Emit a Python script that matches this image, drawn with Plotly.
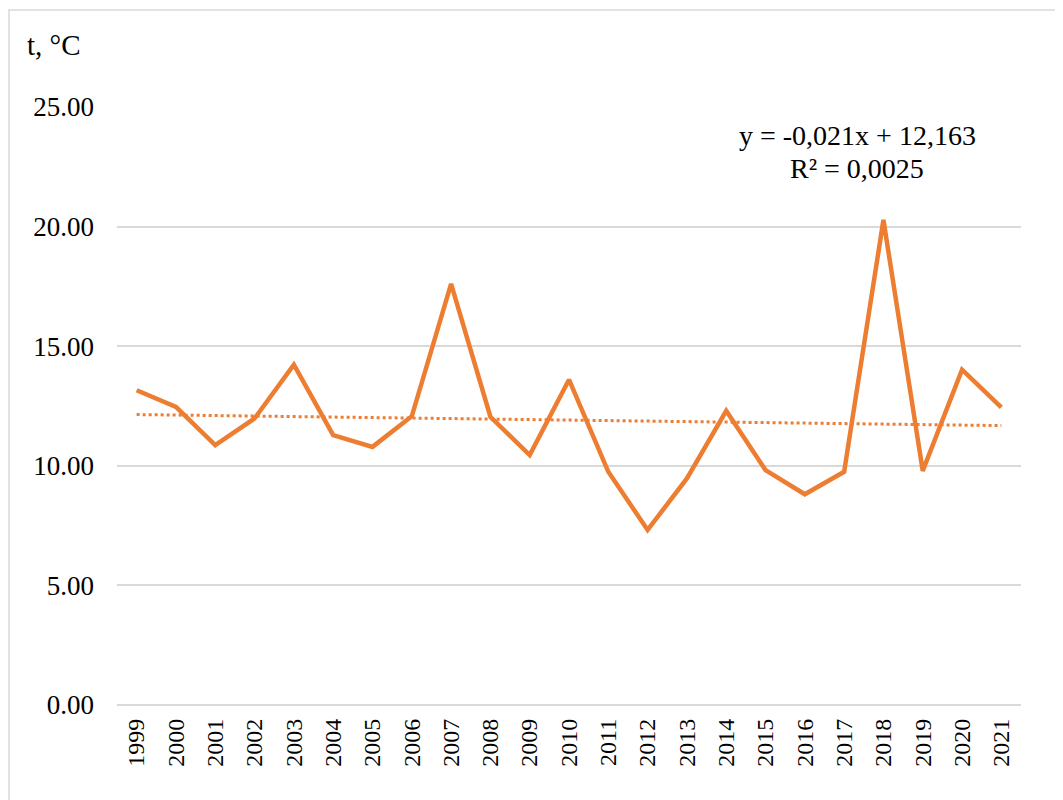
import plotly.graph_objects as go

years = [str(y) for y in range(1999, 2022)]
temps = [13.16, 12.46, 10.86, 11.98, 14.23, 11.28, 10.79, 12.07, 17.61, 12.05,
         10.45, 13.60, 9.75, 7.32, 9.47, 12.30, 9.82, 8.81, 9.75, 20.28,
         9.79, 14.02, 12.44]
trend_slope = -0.021
trend_intercept = 12.163
trend_lines = ["y = -0,021x + 12,163", "R² = 0,0025"]
y_ticks = [0, 5, 10, 15, 20, 25]

trend = [trend_slope * (i + 1) + trend_intercept for i in range(len(years))]

ORANGE = "#ED7D31"
FONT = "Liberation Serif"

fig = go.Figure()
fig.add_trace(go.Scatter(x=years, y=trend, mode="lines",
                         line=dict(color=ORANGE, width=3, dash="dot"),
                         hoverinfo="skip", showlegend=False))
fig.add_trace(go.Scatter(x=years, y=temps, mode="lines",
                         line=dict(color=ORANGE, width=4.5),
                         showlegend=False))

# page body has an 8px margin; compensate so the plot lands where the reference has it
OFF = 8
L, R, T, B = 117 - OFF, 42, 107 - OFF, 95
W, H = 1063 - OFF, 800 - OFF
pw, ph = W - L - R, H - T - B


def px_x(x):  # page x -> paper x
    return (x - OFF - L) / pw


def px_y(y):  # page y -> paper y
    return (H - B - (y - OFF)) / ph


fig.update_layout(
    width=W, height=H,
    margin=dict(l=L, r=R, t=T, b=B),
    paper_bgcolor="white", plot_bgcolor="white",
    font=dict(family=FONT, color="black"),
    xaxis=dict(type="category", range=[-0.5, len(years) - 0.5],
               tickangle=-90, tickfont=dict(size=24, family=FONT),
               showgrid=False, showline=False, zeroline=False,
               ticks="", ticklabelstandoff=8),
    yaxis=dict(range=[0, 25], tickvals=y_ticks, tickformat=".2f",
               tickfont=dict(size=27, family=FONT),
               showgrid=True, gridcolor="#D9D9D9", gridwidth=1.5,
               zeroline=True, zerolinecolor="#D9D9D9", zerolinewidth=1.5,
               showline=False, ticks="", ticklabelstandoff=22),
    shapes=[dict(type="rect", xref="paper", yref="paper",
                 x0=px_x(9), x1=px_x(1100),
                 y0=px_y(840), y1=px_y(10),
                 line=dict(color="#D9D9D9", width=1.5), fillcolor="rgba(0,0,0,0)",
                 layer="below")],
    annotations=[
        dict(text="t, °C", xref="paper", yref="paper",
             x=px_x(25), y=px_y(45), xanchor="left", yanchor="middle",
             showarrow=False, font=dict(size=29, family=FONT)),
        dict(text=trend_lines[0], xref="paper", yref="paper",
             x=px_x(857), y=px_y(136), xanchor="center", yanchor="middle",
             showarrow=False, font=dict(size=28, family=FONT)),
        dict(text=trend_lines[1], xref="paper", yref="paper",
             x=px_x(857), y=px_y(168), xanchor="center", yanchor="middle",
             showarrow=False, font=dict(size=28, family=FONT)),
    ],
)

fig.write_html("out.html")
